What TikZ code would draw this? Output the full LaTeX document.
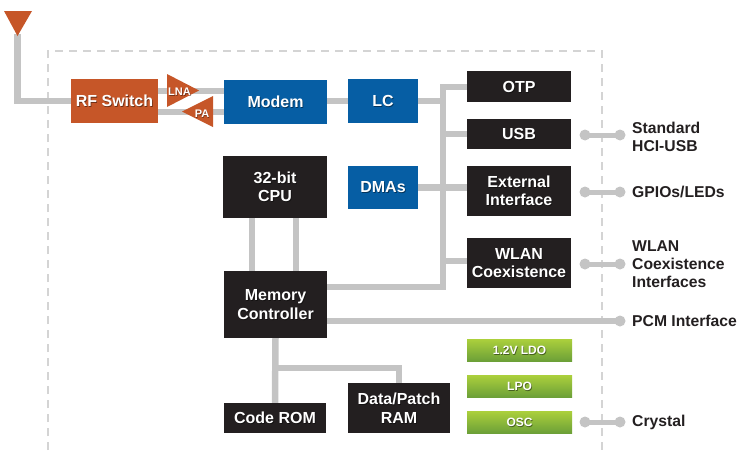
\documentclass[tikz,border=0pt]{standalone}
\usepackage{fontspec}
\setmainfont{Liberation Sans}
\usetikzlibrary{backgrounds}
\definecolor{rfor}{RGB}{198,86,40}
\definecolor{boxblue}{RGB}{6,94,164}
\definecolor{boxblack}{RGB}{35,31,32}
\definecolor{wiregray}{RGB}{196,196,196}
\definecolor{dashgray}{RGB}{212,212,212}
\definecolor{greentop}{RGB}{172,208,60}
\definecolor{greenbot}{RGB}{108,160,56}
% #1 shape style, #2 text style, #3 name, #4 position, #5 width, #6 height, #7 text
\newcommand\chipbox[7]{%
  \node[#1, inner sep=0pt, minimum width=#5pt, minimum height=#6pt] (#3) at (#4) {};
  \node[#2, text=black, text opacity=0.45] (#3-s) at ([xshift=0.8pt,yshift=-1pt]#3.center) {#7};
  \node[#2] (#3-t) at (#3.center) {#7};
}
\begin{document}
\begin{tikzpicture}[x=1pt,y=-1pt,
  wire/.style={draw=wiregray, line width=6.5pt},
  extwire/.style={draw=wiregray, line width=5pt},
  btxt/.style={inner sep=0pt, align=center, text=white, font=\bfseries\fontsize{16}{18.5}\selectfont},
  gtxt/.style={inner sep=0pt, align=center, text=white, font=\bfseries\fontsize{12}{14}\selectfont},
  blk/.style={fill=boxblack},
  blu/.style={fill=boxblue},
  orn/.style={fill=rfor},
  grn/.style={top color=greentop, bottom color=greenbot, draw=none},
  lbl/.style={anchor=west, align=left, text=boxblack, font=\bfseries\fontsize{15.7}{18}\selectfont, inner sep=0pt},
  amp/.style={inner sep=0pt, text=white, font=\bfseries\fontsize{11}{12}\selectfont},
  dotend/.style={circle, fill=wiregray, inner sep=0pt, minimum size=11pt},
  border/.style={draw=dashgray, line width=2.5pt, dash pattern=on 8pt off 6pt},
]
\useasboundingbox (0,0) rectangle (739,450);

% boxes
\chipbox{orn}{btxt}{rf}{114.5,101}{87}{44}{RF Switch}
\chipbox{blu}{btxt}{modem}{275.5,102}{103}{44}{Modem}
\chipbox{blu}{btxt}{lc}{383,101}{70}{44}{LC}
\chipbox{blu}{btxt}{dma}{383,187.5}{70}{43}{DMAs}
\chipbox{blk}{btxt}{otp}{519,86.5}{104}{31}{OTP}
\chipbox{blk}{btxt}{usb}{519,134}{104}{30}{USB}
\chipbox{blk}{btxt}{ext}{519,191}{104}{50}{External\\Interface}
\chipbox{blk}{btxt}{wlan}{519,263}{104}{50}{WLAN\\Coexistence}
\chipbox{blk}{btxt}{cpu}{275,187}{104}{62}{32-bit\\CPU}
\chipbox{blk}{btxt}{mc}{275.5,304.5}{103}{67}{Memory\\Controller}
\chipbox{blk}{btxt}{rom}{275,418}{102}{30}{Code ROM}
\chipbox{blk}{btxt}{ram}{399,408}{102}{50}{Data/Patch\\RAM}
\chipbox{grn}{gtxt}{ldo}{519.5,350}{105}{22}{1.2V LDO}
\chipbox{grn}{gtxt}{lpo}{519.5,386}{105}{22}{LPO}
\chipbox{grn}{gtxt}{osc}{519.5,422}{105}{22}{OSC}

% helper coordinates
\coordinate (ant) at (17.5,34);
\coordinate (lnaY) at (183,91);
\coordinate (paY) at (197,112);
\coordinate (bustop) at (443,87);
\coordinate (busbot) at (443,287);
\coordinate (wlanY) at (455,261);
\coordinate (pcmY) at (400,321);
\coordinate (pcmEnd) at (620,321);
\coordinate (c1) at (252,240);
\coordinate (c2) at (296,240);
\coordinate (br) at (275,368);

% antenna and amplifiers
\fill[rfor] (4,11) -- (32,11) -- (17.5,36) -- cycle;
\fill[rfor] (167,74) -- (167,107) -- (199,90.5) -- cycle;
\fill[rfor] (213,96) -- (213,127) -- (182,111.5) -- cycle;
\node[amp, text=black, text opacity=0.4] (lna-s) at (180.2,92.3) {LNA};
\node[amp] (lna) at (179.5,91.5) {LNA};
\node[amp, text=black, text opacity=0.4] (pa-s) at (202.7,114.3) {PA};
\node[amp] (pa) at (202,113.5) {PA};

% external connector dots
\foreach \n/\yy in {a/135, b/192, c/264, d/422}{
  \node[dotend] (dl\n) at (585,\yy) {};
  \node[dotend] (dr\n) at (620,\yy) {};
}
\node[dotend] (pcmdot) at (pcmEnd) {};

\begin{pgfonlayer}{background}
% dashed chip border
\draw[border] (48,450) -- (48,51) -- (602,51) -- (602,450);
% antenna
\draw[wire] (ant) -- (ant |- rf.west) -- (rf.west);
% RF paths
\draw[wire] (rf.east |- lnaY) -- (modem.west |- lnaY);
\draw[wire] (rf.east |- paY) -- (modem.west |- paY);
% modem - LC - bus
\draw[wire] (modem.east |- lc.east) -- (lc.west);
\draw[wire] (lc.east) -- (lc.east -| bustop);
\draw[wire] (otp.west |- bustop) -- (bustop) -- (busbot) -- (mc.east |- busbot);
\draw[wire] (usb.west -| bustop) -- (usb.west);
\draw[wire] (dma.east) -- (ext.west |- dma.east);
\draw[wire] (wlanY -| bustop) -- (wlan.west |- wlanY);
% CPU - memory controller
\draw[wire] (cpu.south -| c1) -- (mc.north -| c1);
\draw[wire] (cpu.south -| c2) -- (mc.north -| c2);
% memory controller - ROM / RAM
\draw[wire] (mc.south) -- (rom.north);
\draw[wire] (br) -- (br -| ram.north) -- (ram.north);
% PCM
\draw[wire] (mc.east |- pcmY) -- (pcmdot.center);
% external connectors
\foreach \n in {a,b,c,d}{
  \draw[extwire] (dl\n.center) -- (dr\n.center);
}
\end{pgfonlayer}

% labels
\node[lbl] (hci) at (632,136.5) {Standard\\HCI-USB};
\node[lbl] (gpio) at (632,192) {GPIOs/LEDs};
\node[lbl] (wlanif) at (632,264) {WLAN\\Coexistence\\Interfaces};
\node[lbl] (pcm) at (632,320.5) {PCM Interface};
\node[lbl] (crys) at (632,422) {Crystal};
\end{tikzpicture}
\end{document}
